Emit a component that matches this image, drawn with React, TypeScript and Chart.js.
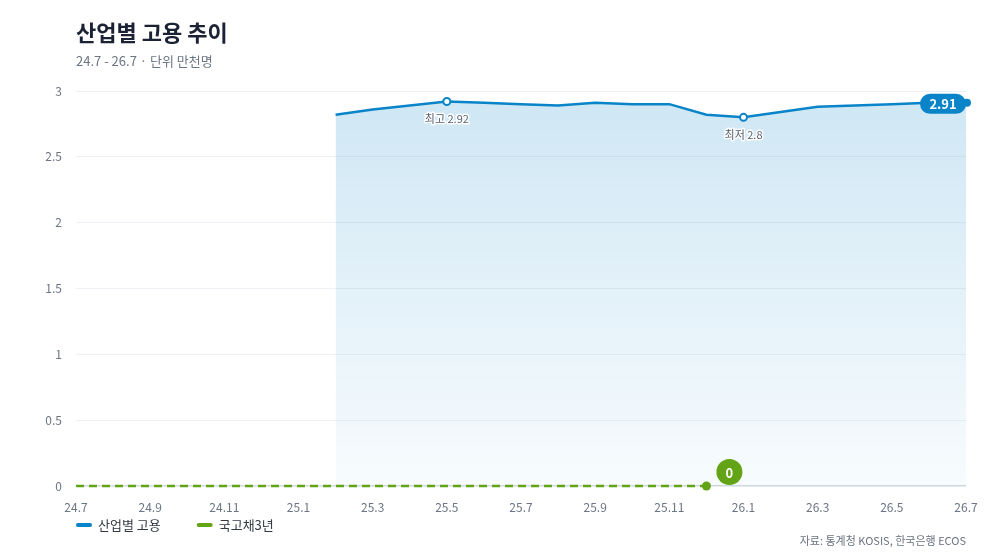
import React, { useEffect, useRef } from "react";
import { Chart, registerables } from "chart.js";

Chart.register(...registerables);

const months: string[] = [
  "24.7", "24.8", "24.9", "24.10", "24.11", "24.12",
  "25.1", "25.2", "25.3", "25.4", "25.5", "25.6", "25.7", "25.8", "25.9", "25.10", "25.11", "25.12",
  "26.1", "26.2", "26.3", "26.4", "26.5", "26.6", "26.7",
];

const employment: (number | null)[] = [
  null, null, null, null, null, null, null,
  2.82, 2.86, 2.89, 2.92, 2.91, 2.90, 2.89, 2.91, 2.90, 2.90, 2.82,
  2.80, 2.84, 2.88, 2.89, 2.90, 2.91, 2.91,
];

const bond3y: (number | null)[] = [
  0, 0, 0, 0, 0, 0, 0, 0, 0, 0, 0, 0, 0, 0, 0, 0, 0, 0,
  null, null, null, null, null, null, null,
];

const yTicks: number[] = [0, 0.5, 1, 1.5, 2, 2.5, 3];

const TITLE = "산업별 고용 추이";
const SUBTITLE = "24.7 - 26.7 · 단위 만천명";
const SOURCE = "자료: 통계청 KOSIS, 한국은행 ECOS";
const SERIES_NAMES = ["산업별 고용", "국고채3년"];

const BLUE = "#0a84c8";
const GREEN = "#62a415";
const FONT = '"Noto Sans CJK KR", "Noto Sans", sans-serif';

function lastIndex(arr: (number | null)[]) {
  for (let i = arr.length - 1; i >= 0; i--) if (arr[i] !== null) return i;
  return -1;
}
function extremeIndex(arr: (number | null)[], max: boolean) {
  let idx = -1;
  arr.forEach((v, i) => {
    if (v === null) return;
    if (idx < 0) idx = i;
    else if (max ? v > (arr[idx] as number) : v < (arr[idx] as number)) idx = i;
  });
  return idx;
}

const maxIdx = extremeIndex(employment, true);
const minIdx = extremeIndex(employment, false);
const lastBlue = lastIndex(employment);
const lastGreen = lastIndex(bond3y);

function roundRect(ctx: CanvasRenderingContext2D, x: number, y: number, w: number, h: number, r: number) {
  ctx.beginPath();
  ctx.moveTo(x + r, y);
  ctx.lineTo(x + w - r, y);
  ctx.arc(x + w - r, y + r, r, -Math.PI / 2, 0);
  ctx.lineTo(x + w, y + h - r);
  ctx.arc(x + w - r, y + h - r, r, 0, Math.PI / 2);
  ctx.lineTo(x + r, y + h);
  ctx.arc(x + r, y + h - r, r, Math.PI / 2, Math.PI);
  ctx.lineTo(x, y + r);
  ctx.arc(x + r, y + r, r, Math.PI, Math.PI * 1.5);
  ctx.closePath();
}

const overlayPlugin = {
  id: "overlay",
  afterDatasetsDraw(chart: any) {
    const ctx: CanvasRenderingContext2D = chart.ctx;
    const blueMeta = chart.getDatasetMeta(0);
    const greenMeta = chart.getDatasetMeta(1);
    ctx.save();
    const drawHalo = (text: string, x: number, y: number) => {
      ctx.font = `11px ${FONT}`;
      ctx.textAlign = "center";
      ctx.textBaseline = "middle";
      ctx.lineWidth = 3;
      ctx.strokeStyle = "rgba(255,255,255,0.95)";
      ctx.lineJoin = "round";
      ctx.strokeText(text, x, y);
      ctx.fillStyle = "#59616d";
      ctx.fillText(text, x, y);
    };
    const pMax = blueMeta.data[maxIdx];
    const pMin = blueMeta.data[minIdx];
    drawHalo(`최고 ${employment[maxIdx]}`, pMax.x, pMax.y + 17);
    drawHalo(`최저 ${employment[minIdx]}`, pMin.x, pMin.y + 17);

    const pl = blueMeta.data[lastBlue];
    const w = 46, h = 20;
    roundRect(ctx, pl.x - w, pl.y - h / 2 + 1, w, h, 10);
    ctx.fillStyle = BLUE;
    ctx.fill();
    ctx.beginPath();
    ctx.arc(pl.x + 1, pl.y, 4, 0, Math.PI * 2);
    ctx.fill();
    ctx.fillStyle = "#ffffff";
    ctx.font = `bold 13px ${FONT}`;
    ctx.textAlign = "center";
    ctx.textBaseline = "middle";
    ctx.fillText(String(employment[lastBlue]), pl.x - w / 2, pl.y + 1);

    const pg = greenMeta.data[lastGreen];
    ctx.beginPath();
    ctx.arc(pg.x + 23, pg.y - 14, 13, 0, Math.PI * 2);
    ctx.fillStyle = GREEN;
    ctx.fill();
    ctx.fillStyle = "#ffffff";
    ctx.font = `bold 13px ${FONT}`;
    ctx.fillText(String(bond3y[lastGreen]), pg.x + 23, pg.y - 13);
    ctx.restore();
  },
  afterDraw(chart: any) {
    const ctx: CanvasRenderingContext2D = chart.ctx;
    const area = chart.chartArea;
    ctx.save();
    ctx.textBaseline = "middle";
    ctx.textAlign = "left";
    ctx.fillStyle = "#1b2233";
    ctx.font = `bold 22px ${FONT}`;
    ctx.fillText(TITLE, area.left, 33);
    ctx.fillStyle = "#6b7583";
    ctx.font = `13px ${FONT}`;
    ctx.fillText(SUBTITLE, area.left, 61);

    const colors = [BLUE, GREEN];
    let x = area.left;
    ctx.font = `13px ${FONT}`;
    SERIES_NAMES.forEach((name, i) => {
      ctx.strokeStyle = colors[i];
      ctx.lineWidth = 4;
      ctx.lineCap = "round";
      ctx.beginPath();
      ctx.moveTo(x + 2, 525);
      ctx.lineTo(x + 14, 525);
      ctx.stroke();
      ctx.fillStyle = "#333a44";
      ctx.fillText(name, x + 22, 525);
      x += 22 + ctx.measureText(name).width + 36;
    });

    ctx.textAlign = "right";
    ctx.fillStyle = "#6b7380";
    ctx.font = `11px ${FONT}`;
    ctx.fillText(SOURCE, area.right, 541);
    ctx.restore();
  },
};

export default function App() {
  const ref = useRef<HTMLCanvasElement | null>(null);
  useEffect(() => {
    document.body.style.margin = "0";
    const canvas = ref.current!;
    const chart = new Chart(canvas, {
      type: "line",
      data: {
        labels: months,
        datasets: [
          {
            label: SERIES_NAMES[0],
            data: employment,
            borderColor: BLUE,
            borderWidth: 2.5,
            tension: 0,
            fill: "origin",
            backgroundColor: (c: any) => {
              const area = c.chart.chartArea;
              if (!area) return "rgba(10,132,200,0.18)";
              const g = c.chart.ctx.createLinearGradient(0, area.top, 0, area.bottom);
              g.addColorStop(0, "rgba(10,132,200,0.20)");
              g.addColorStop(1, "rgba(10,132,200,0.03)");
              return g;
            },
            pointRadius: (c: any) => (c.dataIndex === maxIdx || c.dataIndex === minIdx ? 3.5 : 0),
            pointBackgroundColor: "#ffffff",
            pointBorderColor: BLUE,
            pointBorderWidth: 2,
            pointHoverRadius: 0,
            spanGaps: false,
            clip: false,
            order: 2,
          },
          {
            label: SERIES_NAMES[1],
            data: bond3y,
            borderColor: GREEN,
            borderWidth: 2.5,
            borderDash: [8, 5],
            tension: 0,
            fill: false,
            pointRadius: (c: any) => (c.dataIndex === lastGreen ? 4.5 : 0),
            pointBackgroundColor: GREEN,
            pointBorderColor: GREEN,
            pointBorderWidth: 0,
            pointHoverRadius: 0,
            clip: false,
            order: 1,
          },
        ],
      },
      options: {
        animation: false,
        responsive: false,
        devicePixelRatio: 1,
        layout: { padding: { left: 0, right: 34, top: 91, bottom: 44 } },
        plugins: {
          legend: { display: false },
          tooltip: { enabled: false },
        },
        scales: {
          x: {
            grid: { display: false, drawTicks: false },
            border: { display: false },
            ticks: {
              autoSkip: false,
              maxRotation: 0,
              padding: 14,
              color: "#6b7583",
              font: { family: FONT, size: 12 },
              callback: (_v: any, i: number) => (i % 2 === 0 ? months[i] : ""),
            },
            afterFit: (s: any) => {
              s.height = 30;
            },
          },
          y: {
            min: 0,
            max: 3,
            afterBuildTicks: (s: any) => {
              s.ticks = yTicks.map((v) => ({ value: v }));
            },
            grid: {
              drawTicks: false,
              color: (c: any) => (c.tick && c.tick.value === 0 ? "#d3d9e0" : "#eef1f5"),
              lineWidth: (c: any) => (c.tick && c.tick.value === 0 ? 1.5 : 1),
            },
            border: { display: false },
            ticks: {
              padding: 14,
              color: "#6b7583",
              font: { family: FONT, size: 12 },
              callback: (v: any) => String(Number(v)),
            },
            afterFit: (s: any) => {
              s.width = 76;
            },
          },
        },
      },
      plugins: [overlayPlugin],
    } as any);
    return () => chart.destroy();
  }, []);
  return (
    <div style={{ width: 1000, height: 560, background: "#ffffff" }}>
      <canvas ref={ref} width={1000} height={560} style={{ display: "block" }} />
    </div>
  );
}
